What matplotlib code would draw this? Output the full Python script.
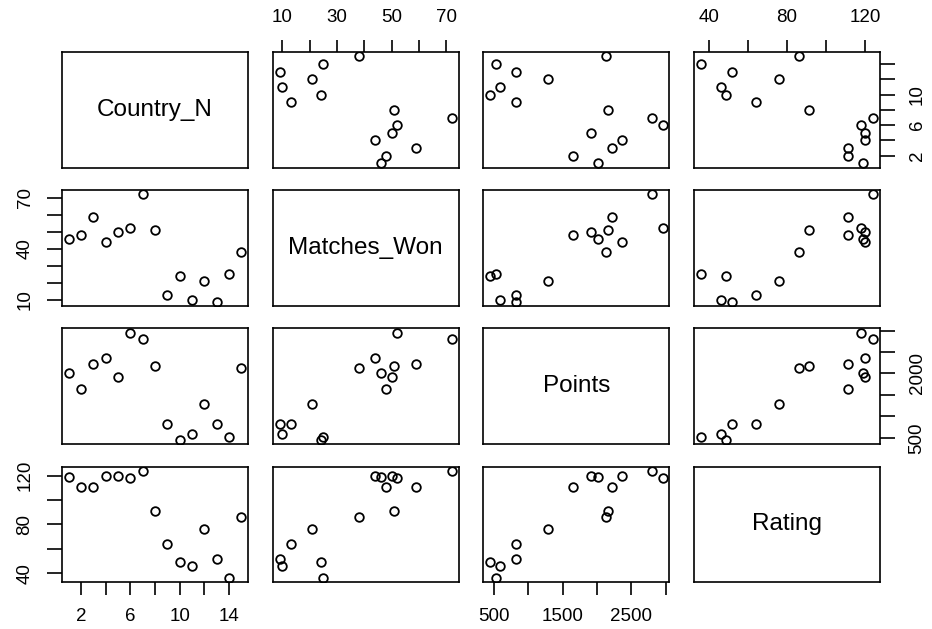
import numpy as np
import matplotlib.pyplot as plt

plt.rcParams['font.family'] = ['Liberation Sans', 'DejaVu Sans']

# --- data ---
country_n = [1, 2, 3, 4, 5, 6, 7, 8, 9, 10, 11, 12, 13, 14, 15]
matches_won = [46, 48, 59, 44, 50, 52, 72, 51, 13, 24, 10, 21, 9, 25, 38]
points = [2018, 1646, 2222, 2368, 1908, 2950, 2804, 2164, 830, 452, 587, 1290, 830, 529, 2130]
rating = [119, 111, 111, 120, 120, 118, 124, 91, 64, 49, 46, 76, 52, 36, 86]

names = ["Country_N", "Matches_Won", "Points", "Rating"]
cols = [country_n, matches_won, points, rating]

# tick positions and the labels R keeps on each side
tick_vals = [
    [2, 4, 6, 8, 10, 12, 14],
    [10, 20, 30, 40, 50, 60, 70],
    [500, 1000, 1500, 2000, 2500, 3000],
    [40, 60, 80, 100, 120],
]
xlab_shown = [[2, 6, 10, 14], [10, 30, 50, 70], [500, 1500, 2500], [40, 80, 120]]
ylab_shown = [[2, 6, 10], [10, 40, 70], [500, 2000], [40, 80, 120]]

W, H = 932, 629
fig = plt.figure(figsize=(W / 100, H / 100), dpi=100)

left0, top0 = 62, 52
pw, ph = 186, 115.7
dx, dy = 210.7, 138.2


def lims(v):
    v = np.asarray(v, float)
    lo, hi = v.min(), v.max()
    r = hi - lo
    return lo - 0.04 * r, hi + 0.04 * r


def labels(vals, shown):
    return [str(v) if v in shown else "" for v in vals]


for i in range(4):
    for j in range(4):
        l = left0 + j * dx
        t = top0 + i * dy
        ax = fig.add_axes([l / W, 1 - (t + ph) / H, pw / W, ph / H])
        ax.set_xlim(lims(cols[j]))
        ax.set_ylim(lims(cols[i]))
        for s in ax.spines.values():
            s.set_linewidth(1.2)

        ax.tick_params(axis="both", which="both", top=False, bottom=False,
                       left=False, right=False, labeltop=False,
                       labelbottom=False, labelleft=False, labelright=False,
                       direction="out", width=1.2, labelsize=13.5)
        ax.tick_params(axis="x", length=9, pad=9.5)
        ax.tick_params(axis="y", length=11, pad=9.5)

        if i == j:
            ax.text(0.5, 0.5, names[i], transform=ax.transAxes,
                    ha="center", va="center", fontsize=17.5)
        else:
            ax.plot(cols[j], cols[i], "o", mfc="none", mec="black",
                    ms=6.2, mew=1.3)

        ax.set_xticks(tick_vals[j])
        ax.set_xticklabels(labels(tick_vals[j], xlab_shown[j]))
        ax.set_yticks(tick_vals[i])
        ax.set_yticklabels(labels(tick_vals[i], ylab_shown[i]),
                           rotation=90, va="center")

        # outer axes alternate sides as in pairs()
        if i == 0 and j % 2 == 1:
            ax.tick_params(axis="x", top=True, labeltop=True)
        if i == 3 and j % 2 == 0:
            ax.tick_params(axis="x", bottom=True, labelbottom=True)
        if j == 0 and i % 2 == 1:
            ax.tick_params(axis="y", left=True, labelleft=True)
        if j == 3 and i % 2 == 0:
            ax.tick_params(axis="y", right=True, labelright=True)

fig.savefig("out.png", dpi=100)
